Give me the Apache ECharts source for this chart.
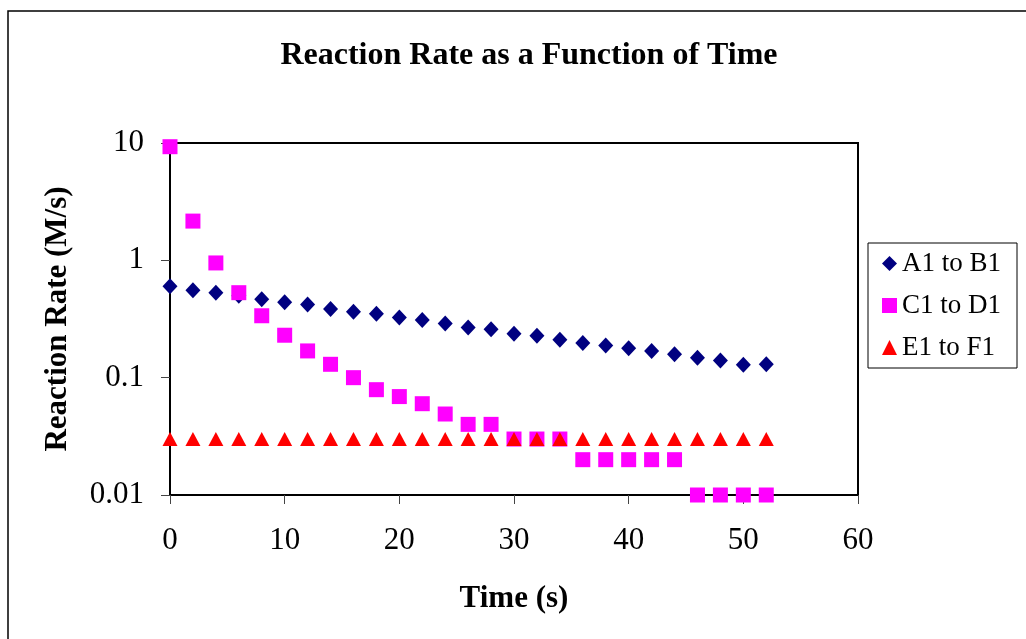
<!DOCTYPE html>
<html>
<head>
<meta charset="utf-8">
<script src="https://cdn.jsdelivr.net/npm/echarts@6/dist/echarts.min.js"></script>
<style>
  html, body { margin: 0; padding: 0; background: #fff; }
  #chart { width: 1026px; height: 639px; }
</style>
</head>
<body>
<div id="chart"></div>
<script>
// Data
var times = [0, 2, 4, 6, 8, 10, 12, 14, 16, 18, 20, 22, 24, 26, 28, 30, 32, 34, 36, 38, 40, 42, 44, 46, 48, 50, 52];
var rateAB = [0.60, 0.555, 0.53, 0.50, 0.465, 0.44, 0.42, 0.385, 0.365, 0.35, 0.325, 0.31, 0.29, 0.267, 0.258,
              0.237, 0.228, 0.21, 0.197, 0.188, 0.178, 0.169, 0.158, 0.148, 0.14, 0.129, 0.13];
var rateCD = [9.3, 2.16, 0.95, 0.53, 0.337, 0.23, 0.169, 0.13, 0.1, 0.079, 0.069, 0.06, 0.049, 0.04, 0.04,
              0.03, 0.03, 0.03, 0.02, 0.02, 0.02, 0.02, 0.02, 0.01, 0.01, 0.01, 0.01];
var rateEF = [0.03, 0.03, 0.03, 0.03, 0.03, 0.03, 0.03, 0.03, 0.03, 0.03, 0.03, 0.03, 0.03, 0.03, 0.03,
              0.03, 0.03, 0.03, 0.03, 0.03, 0.03, 0.03, 0.03, 0.03, 0.03, 0.03, 0.03];
var seriesNames = ['A1 to B1', 'C1 to D1', 'E1 to F1'];

function pairs(xs, ys) {
    return xs.map(function (x, i) { return [x, ys[i]]; });
}

var serif = '"Liberation Serif", "Times New Roman", serif';
var chart = echarts.init(document.getElementById('chart'));

var option = {
    backgroundColor: '#fff',
    animation: false,
    title: {
        text: 'Reaction Rate as a Function of Time',
        left: 524,
        textAlign: 'center',
        top: 35,
        textStyle: { fontFamily: serif, fontSize: 32, fontWeight: 'bold', color: '#000' }
    },
    legend: {
        orient: 'vertical',
        left: 868,
        top: 243,
        padding: [7, 16, 7, 14],
        itemGap: 15,
        itemWidth: 15,
        itemHeight: 15,
        borderColor: '#000',
        borderWidth: 1,
        textStyle: { fontFamily: serif, fontSize: 27, color: '#000' },
        data: [
            { name: seriesNames[0], icon: 'diamond' },
            { name: seriesNames[1], icon: 'rect' },
            { name: seriesNames[2], icon: 'triangle' }
        ]
    },
    grid: {
        left: 170,
        top: 143,
        right: 168,
        bottom: 144,
        show: true,
        borderColor: '#000',
        borderWidth: 2,
        backgroundColor: '#fff'
    },
    graphic: [{
        type: 'rect',
        shape: { x: 8, y: 11, width: 1100, height: 700 },
        style: { fill: 'none', stroke: '#000', lineWidth: 1.5 },
        z: -1
    }],
    xAxis: {
        type: 'value',
        min: 0,
        max: 60,
        interval: 10,
        name: 'Time (s)',
        nameLocation: 'middle',
        nameGap: 88,
        nameTextStyle: { fontFamily: serif, fontSize: 31, fontWeight: 'bold', color: '#000' },
        axisLine: { onZero: false, lineStyle: { color: '#000', width: 2 } },
        axisTick: { inside: false, length: 9, lineStyle: { color: '#444', width: 1 } },
        axisLabel: { fontFamily: serif, fontSize: 31, color: '#000', margin: 30 },
        splitLine: { show: false }
    },
    yAxis: {
        type: 'log',
        logBase: 10,
        min: 0.01,
        max: 10,
        name: 'Reaction Rate (M/s)',
        nameLocation: 'middle',
        nameGap: 97,
        nameTextStyle: { fontFamily: serif, fontSize: 31, fontWeight: 'bold', color: '#000' },
        axisLine: { lineStyle: { color: '#000', width: 2 } },
        axisTick: { inside: false, length: 9, lineStyle: { color: '#444', width: 1 } },
        axisLabel: {
            fontFamily: serif, fontSize: 31, color: '#000', margin: 26,
            formatter: function (v) { return String(+v.toPrecision(3)); }
        },
        splitLine: { show: false },
        minorTick: { show: false }
    },
    series: [
        {
            name: seriesNames[0],
            type: 'scatter',
            symbol: 'diamond',
            symbolSize: [15, 16],
            itemStyle: { color: '#000080', opacity: 1 },
            data: pairs(times, rateAB)
        },
        {
            name: seriesNames[1],
            type: 'scatter',
            symbol: 'rect',
            symbolSize: 15,
            itemStyle: { color: '#ff00ff', opacity: 1 },
            data: pairs(times, rateCD)
        },
        {
            name: seriesNames[2],
            type: 'scatter',
            symbol: 'triangle',
            symbolSize: [15, 14],
            itemStyle: { color: '#ff0000', opacity: 1 },
            data: pairs(times, rateEF)
        }
    ]
};

chart.setOption(option);
</script>
</body>
</html>
